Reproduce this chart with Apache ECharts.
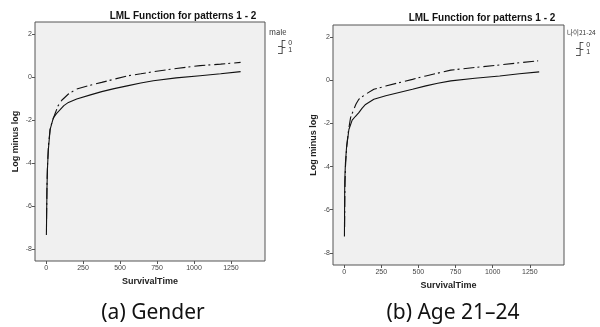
<!DOCTYPE html>
<html>
<head>
<meta charset="utf-8">
<script src="https://cdn.jsdelivr.net/npm/echarts@6/dist/echarts.min.js"></script>
<style>
html,body{margin:0;padding:0;background:#fff;}
#c{width:600px;height:327px;}
</style>
</head>
<body>
<div id="c"></div>
<script>
// ---- data ----
var xTicks = [0, 250, 500, 750, 1000, 1250];
var yTicks = [-8, -6, -4, -2, 0, 2];
var titleText = 'LML Function for patterns 1 - 2';
var legendTitles = ['male', '나이21-24'];
var groupNames = ['0', '1'];
var captions = ['(a) Gender', '(b) Age 21–24'];

// panel (a) gender
var genderG0 = [[2,-7.35],[4,-6.2],[6,-5.2],[9,-4.3],[15,-3.4],[27,-2.45],[49,-1.9],[70,-1.7],[95,-1.52],[120,-1.33],[151,-1.18],[207,-1.02],[300,-0.83],[376,-0.68],[460,-0.54],[556,-0.40],[640,-0.28],[725,-0.17],[880,-0.04],[1041,0.06],[1180,0.15],[1315,0.25]];
var genderG1 = [[3,-6.6],[6,-5.0],[10,-4.0],[17,-3.1],[27,-2.45],[40,-2.1],[61,-1.7],[80,-1.35],[106,-1.08],[151,-0.79],[207,-0.56],[290,-0.40],[376,-0.25],[460,-0.10],[556,0.06],[640,0.15],[725,0.25],[880,0.40],[1041,0.53],[1180,0.60],[1315,0.68]];
// panel (b) age 21-24
var ageG0 = [[2,-7.24],[3,-6.0],[4,-4.68],[9,-3.8],[16,-3.13],[32,-2.28],[54,-1.85],[75,-1.68],[99,-1.5],[120,-1.3],[144,-1.12],[200,-0.88],[280,-0.72],[370,-0.57],[460,-0.42],[550,-0.26],[630,-0.14],[718,-0.03],[880,0.09],[1047,0.20],[1180,0.30],[1313,0.39]];
var ageG1 = [[3,-6.8],[5,-5.2],[9,-4.0],[18,-3.0],[30,-2.3],[43,-1.74],[65,-1.35],[80,-1.1],[99,-0.88],[144,-0.65],[200,-0.42],[280,-0.27],[370,-0.11],[460,0.04],[550,0.20],[630,0.33],[718,0.47],[880,0.59],[1047,0.71],[1180,0.81],[1306,0.90]];

var panels = [
  {grid:{left:35, top:22, width:230, height:239}, titleX:178, titleY:6, legX:269, legY:28, legTop:35, legFont:7.5, capX:153, data:[genderG0, genderG1]},
  {grid:{left:333, top:25, width:231, height:240}, titleX:477, titleY:8, legX:567, legY:29, legTop:37, legFont:6.5, capX:453, data:[ageG0, ageG1]}
];

var chartFont = 'Liberation Sans';
var stepIcon = 'path://M0,10 L6,10 L6,0 L12,0 L12,1.3 L7.3,1.3 L7.3,11.3 L0,11.3 Z';

var option = {
  animation: false,
  backgroundColor: '#ffffff',
  textStyle: {fontFamily: chartFont},
  title: [], grid: [], xAxis: [], yAxis: [], legend: [], series: []
};

panels.forEach(function (p, i) {
  option.grid.push(Object.assign({show:true, backgroundColor:'#f0f0f0', borderColor:'#555', borderWidth:1}, p.grid));
  option.title.push({
    text: titleText, left: p.titleX, top: p.titleY, textAlign: 'center',
    textStyle: {fontFamily: chartFont, fontSize: 10, fontWeight: 'bold', color: '#111'}
  });
  option.title.push({
    text: legendTitles[i], left: p.legX, top: p.legY, padding: 0,
    textStyle: {fontFamily: '"Noto Sans CJK KR", ' + chartFont, fontSize: p.legFont, fontWeight: 'normal', color: '#333'}
  });
  option.xAxis.push({
    type: 'value', gridIndex: i, min: -75, max: 1480,
    name: 'SurvivalTime', nameLocation: 'middle', nameGap: 15,
    nameTextStyle: {fontFamily: chartFont, fontSize: 9, fontWeight: 'bold', color: '#222'},
    axisLine: {show: false, onZero: false},
    splitLine: {show: false},
    axisTick: {show: true, length: 3, lineStyle: {color: '#555'}, customValues: xTicks},
    axisLabel: {fontSize: 7, color: '#444', margin: 4, customValues: xTicks,
      formatter: function (v) { return String(v); }}
  });
  option.yAxis.push({
    type: 'value', gridIndex: i, min: -8.56, max: 2.56,
    name: 'Log minus log', nameLocation: 'middle', nameGap: 15, nameRotate: 90,
    nameTextStyle: {fontFamily: chartFont, fontSize: 9, fontWeight: 'bold', color: '#222'},
    axisLine: {show: false, onZero: false},
    splitLine: {show: false},
    axisTick: {show: true, length: 3, lineStyle: {color: '#555'}, customValues: yTicks},
    axisLabel: {fontSize: 7, color: '#444', margin: 3, customValues: yTicks,
      formatter: function (v) { return String(v); }}
  });
  option.legend.push({
    left: p.legX + 4, top: p.legTop, orient: 'vertical', itemGap: 0,
    itemWidth: 9, itemHeight: 7, icon: stepIcon,
    data: groupNames,
    textStyle: {fontFamily: chartFont, fontSize: 7, color: '#333', padding: [0,0,0,-3]},
    selectedMode: false
  });
  p.data.forEach(function (d, k) {
    option.series.push({
      type: 'line', name: groupNames[k], xAxisIndex: i, yAxisIndex: i,
      data: d, showSymbol: false, symbol: 'none', smooth: false,
      lineStyle: {color: '#111', width: 1.1, type: k === 0 ? 'solid' : [11, 3, 2, 4]},
      itemStyle: {color: '#222'}
    });
  });
});

option.graphic = panels.map(function (p, i) {
  return {type: 'text', x: p.capX, y: 303,
    style: {text: captions[i], font: '21px "Noto Sans"', fill: '#111', align: 'center', verticalAlign: 'top'}};
});

var chart = echarts.init(document.getElementById('c'), null, {renderer: 'canvas'});
chart.setOption(option);
</script>
</body>
</html>
